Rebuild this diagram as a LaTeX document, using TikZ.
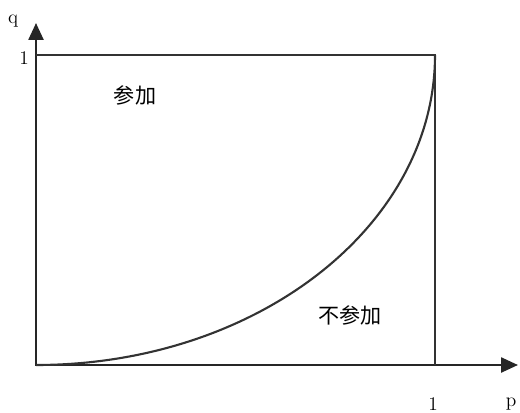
\documentclass[tikz,border=0pt]{standalone}
\usepackage{fontspec}
\newfontfamily\cjk{Noto Sans CJK SC}
\usetikzlibrary{arrows.meta}

\begin{document}
\begin{tikzpicture}[x=0.02cm, y=-0.02cm,
  axis/.style={line width=1.4pt, black!85, line join=miter,
               {Triangle[length=0.34cm, width=0.3cm]}-{Triangle[length=0.34cm, width=0.3cm]}},
  frame/.style={line width=0.8pt, black!80},
  curve/.style={line width=1.2pt, black!80},
  lbl/.style={font=\fontsize{11}{13}\selectfont, inner sep=0pt},
  region/.style={font=\cjk\fontsize{12}{14}\selectfont, inner sep=0pt}
]
  \useasboundingbox (0,0) rectangle (520,412);
  \coordinate (O) at (36,365);
  \coordinate (qtop) at (36,23);
  \coordinate (pend) at (518,365);
  \coordinate (A) at (435,55);

  % axes and unit square
  \draw[axis] (qtop) -- (O) -- (pend);
  \draw[frame] (O |- A) -- (A) -- (A |- O);

  % boundary curve (quarter ellipse about the top left corner)
  \draw[curve] (O) arc[start angle=90, end angle=0, x radius=399, y radius=310];

  % labels
  \node[lbl] (q) at (13,21) {q};
  \node[lbl] (qone) at (24,58) {1};
  \node[lbl] (pone) at (433,404) {1};
  \node[lbl] (p) at (511,404) {p};
  \node[region] (join) at (135,95) {参加};
  \node[region] (nojoin) at (350,315) {不参加};
\end{tikzpicture}
\end{document}
